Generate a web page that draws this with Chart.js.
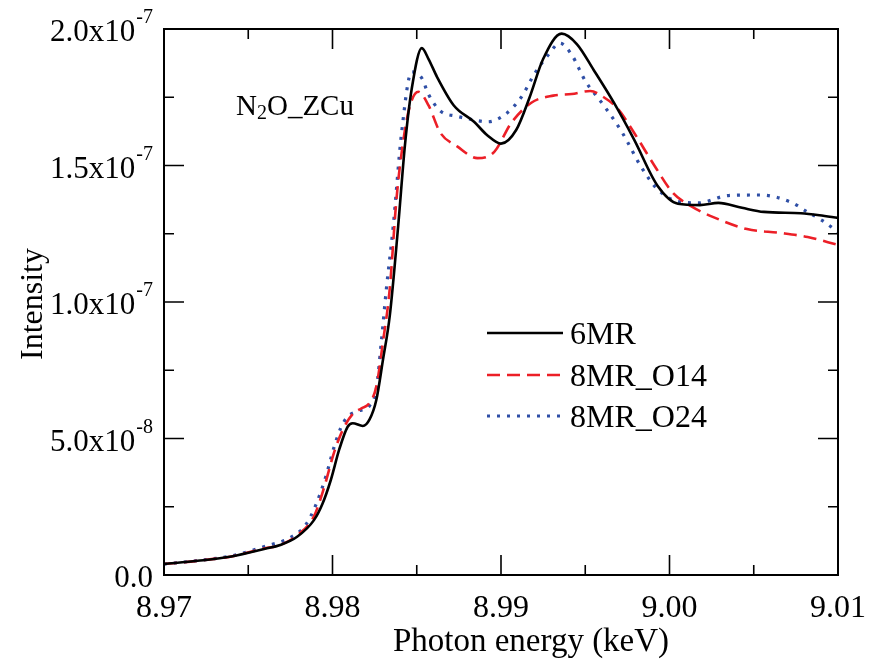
<!DOCTYPE html>
<html>
<head>
<meta charset="utf-8">
<script src="https://cdn.jsdelivr.net/npm/chart.js@4/dist/chart.umd.min.js"></script>
<style>
  html, body { margin: 0; padding: 0; background: #fff; }
  #wrap { width: 870px; height: 664px; }
</style>
</head>
<body>
<div id="wrap"><canvas id="chart" width="870" height="664"></canvas></div>
<script>
// photon energy (keV) / intensity (x1e-8) per structure
const energy6MR = [8.9700, 8.9720, 8.9740, 8.9760, 8.9769, 8.9779, 8.9789, 8.9794, 8.9799, 8.9804, 8.9809, 8.9812, 8.9818, 8.9822, 8.9826, 8.9830, 8.9834, 8.9839, 8.9843, 8.9847, 8.9853, 8.9857, 8.9862, 8.9872, 8.9884, 8.9892, 8.9900, 8.9909, 8.9917, 8.9925, 8.9936, 8.9945, 8.9955, 8.9967, 8.9979, 8.9993, 9.0005, 9.0018, 9.0029, 9.0043, 9.0056, 9.0078, 9.0089, 9.0100];
const intensity6MR = [0.40, 0.52, 0.68, 0.96, 1.10, 1.40, 2.01, 2.60, 3.48, 4.60, 5.43, 5.56, 5.46, 5.70, 6.41, 7.90, 9.50, 12.8, 15.75, 17.8, 19.3, 18.9, 18.25, 17.2, 16.6, 16.1, 15.8, 16.3, 17.5, 18.9, 19.83, 19.45, 18.5, 17.3, 15.95, 14.25, 13.6, 13.55, 13.63, 13.45, 13.30, 13.25, 13.18, 13.08];

const energyO14 = [8.9700, 8.9720, 8.9740, 8.9760, 8.9769, 8.9779, 8.9789, 8.9795, 8.9801, 8.9806, 8.9812, 8.9817, 8.9822, 8.9826, 8.9830, 8.9834, 8.9838, 8.9842, 8.9846, 8.9851, 8.9857, 8.9864, 8.9874, 8.9886, 8.9896, 8.9906, 8.9918, 8.9931, 8.9942, 8.9953, 8.9961, 8.9969, 8.9980, 8.9991, 9.0002, 9.0013, 9.0026, 9.0046, 9.0066, 9.0082, 9.0100];
const intensityO14 = [0.40, 0.52, 0.68, 0.98, 1.10, 1.45, 2.15, 3.20, 4.50, 5.30, 5.90, 6.10, 6.30, 6.90, 8.56, 10.5, 13.8, 15.9, 17.2, 17.7, 17.2, 16.2, 15.7, 15.27, 15.5, 16.55, 17.3, 17.56, 17.62, 17.73, 17.5, 17.1, 16.1, 15.0, 14.0, 13.5, 13.11, 12.67, 12.53, 12.38, 12.09];

const energyO24 = [8.9700, 8.9720, 8.9740, 8.9760, 8.9775, 8.9784, 8.9790, 8.9796, 8.9801, 8.9805, 8.9809, 8.9815, 8.9822, 8.9826, 8.9829, 8.9832, 8.9836, 8.9841, 8.9847, 8.9853, 8.9857, 8.9864, 8.9874, 8.9884, 8.9892, 8.9902, 8.9912, 8.9920, 8.9928, 8.9935, 8.9942, 8.9950, 8.9961, 8.9972, 8.9983, 8.9993, 9.0007, 9.0017, 9.0035, 9.0054, 9.0073, 9.0081, 9.0091, 9.0100];
const intensityO24 = [0.40, 0.53, 0.70, 1.05, 1.37, 1.83, 2.55, 3.60, 4.70, 5.40, 5.80, 6.00, 6.20, 6.80, 8.56, 10.5, 12.75, 16.2, 18.43, 18.2, 17.6, 17.0, 16.8, 16.67, 16.6, 16.85, 17.5, 18.37, 19.05, 19.48, 19.05, 18.1, 17.2, 16.2, 14.97, 14.12, 13.66, 13.63, 13.9, 13.92, 13.63, 13.33, 12.97, 12.56];

const seriesNames = ['6MR', '8MR_O14', '8MR_O24'];

const xTickLabels = ['8.97', '8.98', '8.99', '9.00', '9.01'];
const xMinorTicks = [8.975, 8.985, 8.995, 9.005];
const yTickValues = [0, 5e-8, 1e-7, 1.5e-7, 2e-7];
const yTickMantissa = ['0.0', '5.0x10', '1.0x10', '1.5x10', '2.0x10'];
const yTickExponent = ['', '-8', '-7', '-7', '-7'];
const yMinorTicks = [2.5e-8, 7.5e-8, 1.25e-7, 1.75e-7];

const SERIF = '"Liberation Serif", "DejaVu Serif", serif';

const toPoints = (xs, ys) => xs.map((x, i) => ({ x: x, y: ys[i] * 1e-8 }));

// frame, inward ticks, tick labels, titles, annotation and legend
const decorations = {
  id: 'decorations',
  afterDraw(chart) {
    const ctx = chart.ctx;
    const area = chart.chartArea;
    const xs = chart.scales.x;
    const ys = chart.scales.y;
    ctx.save();
    ctx.strokeStyle = '#000';
    ctx.lineWidth = 2;
    ctx.strokeRect(area.left, area.top, area.right - area.left, area.bottom - area.top);

    ctx.lineWidth = 1.6;
    const xTick = (v, len) => {
      const px = xs.getPixelForValue(v);
      ctx.beginPath();
      ctx.moveTo(px, area.bottom); ctx.lineTo(px, area.bottom - len);
      ctx.moveTo(px, area.top); ctx.lineTo(px, area.top + len);
      ctx.stroke();
    };
    const yTick = (v, len) => {
      const py = ys.getPixelForValue(v);
      ctx.beginPath();
      ctx.moveTo(area.left, py); ctx.lineTo(area.left + len, py);
      ctx.moveTo(area.right, py); ctx.lineTo(area.right - len, py);
      ctx.stroke();
    };
    xTickLabels.forEach(l => xTick(parseFloat(l), 20));
    xMinorTicks.forEach(v => xTick(v, 10));
    yTickValues.forEach(v => yTick(v, 20));
    yMinorTicks.forEach(v => yTick(v, 10));

    ctx.fillStyle = '#000';
    // x tick labels
    ctx.font = '32px ' + SERIF;
    ctx.textAlign = 'center';
    ctx.textBaseline = 'alphabetic';
    xTickLabels.forEach(l => {
      ctx.fillText(l, xs.getPixelForValue(parseFloat(l)), 617);
    });

    // y tick labels with exponent
    const right = 153;
    yTickValues.forEach((v, i) => {
      const py = ys.getPixelForValue(v);
      let end = right;
      if (yTickExponent[i]) {
        ctx.font = '20px ' + SERIF;
        ctx.textAlign = 'right';
        ctx.fillText(yTickExponent[i], right, py - 6);
        end = right - ctx.measureText(yTickExponent[i]).width - 1;
      }
      ctx.font = '31px ' + SERIF;
      ctx.textAlign = 'right';
      ctx.fillText(yTickMantissa[i], end, py + 12);
    });

    // axis titles
    ctx.font = '33px ' + SERIF;
    ctx.textAlign = 'center';
    ctx.fillText('Photon energy (keV)', 531, 651);
    ctx.save();
    ctx.translate(42, 304);
    ctx.rotate(-Math.PI / 2);
    ctx.font = '32px ' + SERIF;
    ctx.fillText('Intensity', 0, 0);
    ctx.restore();

    // N2O_ZCu annotation
    ctx.textAlign = 'left';
    let x = 236;
    ctx.font = '29px ' + SERIF;
    ctx.fillText('N', x, 115);
    x += ctx.measureText('N').width;
    ctx.font = '20px ' + SERIF;
    ctx.fillText('2', x, 119);
    x += ctx.measureText('2').width;
    ctx.font = '29px ' + SERIF;
    ctx.fillText('O_ZCu', x, 115);

    // legend
    const rows = [333, 375, 416];
    chart.data.datasets.forEach((ds, i) => {
      ctx.save();
      ctx.strokeStyle = ds.borderColor;
      ctx.lineWidth = ds.borderWidth;
      ctx.setLineDash(ds.borderDash || []);
      ctx.beginPath();
      ctx.moveTo(487, rows[i]);
      ctx.lineTo(563, rows[i]);
      ctx.stroke();
      ctx.restore();
      ctx.font = '32px ' + SERIF;
      ctx.textAlign = 'left';
      ctx.fillText(ds.label, 570, rows[i] + 11);
    });
    ctx.restore();
  }
};

function setupChart(container) {
  const data = {
    datasets: [
      {
        label: seriesNames[0],
        data: toPoints(energy6MR, intensity6MR),
        borderColor: '#000000',
        borderWidth: 2.6,
      },
      {
        label: seriesNames[1],
        data: toPoints(energyO14, intensityO14),
        borderColor: '#ec1f27',
        borderWidth: 2.6,
        borderDash: [13, 7],
      },
      {
        label: seriesNames[2],
        data: toPoints(energyO24, intensityO24),
        borderColor: '#2f4fa6',
        borderWidth: 3.2,
        borderDash: [3, 7],
      },
    ],
  };

  const options = {
    responsive: false,
    animation: false,
    layout: { padding: { left: 0, right: 32, top: 29, bottom: 0 } },
    elements: {
      point: { radius: 0 },
      line: { cubicInterpolationMode: 'monotone', fill: false },
    },
    plugins: { legend: { display: false }, tooltip: { enabled: false } },
    scales: {
      x: {
        type: 'linear',
        min: 8.97,
        max: 9.01,
        grid: { display: false },
        border: { display: false },
        ticks: { display: false },
        afterFit: s => { s.height = 89; },
      },
      y: {
        type: 'linear',
        min: 0,
        max: 2e-7,
        grid: { display: false },
        border: { display: false },
        ticks: { display: false },
        afterFit: s => { s.width = 164; },
      },
    },
  };

  return new Chart(container.getContext('2d'), {
    type: 'line',
    data: data,
    options: options,
    plugins: [decorations],
  });
}

setupChart(document.getElementById('chart'));
</script>
</body>
</html>
